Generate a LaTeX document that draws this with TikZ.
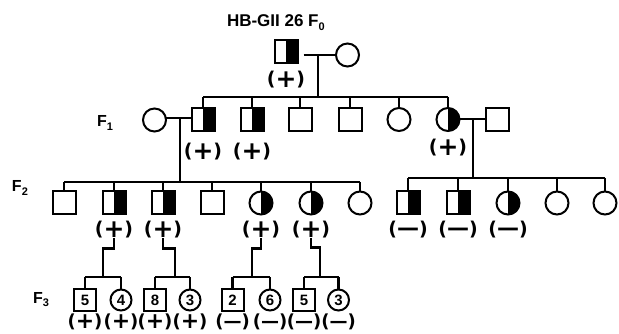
\documentclass[tikz,border=0pt]{standalone}
\usepackage{fontspec}
\setmainfont{Liberation Sans}
\newfontfamily\djv{DejaVu Sans}
\newcommand\Pl{\raisebox{-1.8pt}{\fontsize{25}{25}\selectfont +}}
\newcommand\Mi{{\fontsize{22}{22}\selectfont —}}
\newcommand\Pls{\raisebox{-1.6pt}{\fontsize{22}{22}\selectfont +}}
\newcommand\Mis{{\fontsize{18}{18}\selectfont —}}
\newcommand\Gen[1]{F\raisebox{-3.5pt}{\fontsize{11}{11}\selectfont #1}}
\begin{document}
\begin{tikzpicture}[x=1pt,y=-1pt,
  every node/.style={inner sep=0pt, outer sep=0pt},
  ln/.style={line width=2.2pt},
  male/.style={draw, line width=2pt, rectangle, minimum size=23pt},
  female/.style={draw, line width=2pt, circle, minimum size=23pt},
  smale/.style={draw, line width=2pt, rectangle, minimum size=22pt, font=\bfseries\fontsize{15}{15}\selectfont},
  sfemale/.style={draw, line width=2pt, circle, minimum size=21pt, font=\bfseries\fontsize{15}{15}\selectfont},
  half/.style={path picture={\fill[black] (path picture bounding box.north) rectangle (path picture bounding box.south east);}},
  sign/.style={font=\djv\bfseries\fontsize{19}{19}\selectfont},
  ssign/.style={font=\djv\bfseries\fontsize{18}{18}\selectfont},
  gen/.style={anchor=base west, font=\bfseries\fontsize{16}{16}\selectfont},
]
\useasboundingbox (0,0) rectangle (619,334);

% title
\node[anchor=base west, font=\bfseries\fontsize{17}{17}\selectfont] (title) at (227,27) {HB-GII 26 \Gen{0}};

% generation labels
\node[gen] (g1lab) at (97,127) {\Gen{1}};
\node[gen] (g2lab) at (12,192) {\Gen{2}};
\node[gen] (g3lab) at (33,303) {\Gen{3}};

% F0
\node[male,half] (m0) at (286,52) {};
\node[female] (f0) at (347.5,55) {};
\node[sign] (s0) at (286,80) {(\Pl)};
\coordinate (c0) at (318,55);
\coordinate (b0) at (318,97);
\draw[ln] ([xshift=6pt]m0.east |- f0.west) -- (f0.west);
\draw[ln] (c0) -- (b0);

% F1
\node[female] (f1s) at (154.5,120) {};
\node[male,half] (m1a) at (203,119.5) {};
\node[male,half] (m1b) at (252,119.5) {};
\node[male] (m1c) at (300,119.5) {};
\node[male] (m1d) at (350,119.5) {};
\node[female] (f1e) at (399,119.5) {};
\node[female,half] (f1f) at (448,119.5) {};
\node[male] (m1s) at (497.5,119.5) {};
\node[sign] (s1a) at (203,152) {(\Pl)};
\node[sign] (s1b) at (252,152) {(\Pl)};
\node[sign] (s1f) at (448,148) {(\Pl)};
\draw[ln] (m1a.north |- b0) -- (f1f.north |- b0);
\foreach \n in {m1a,m1b,m1c,m1d,f1e,f1f} \draw[ln] (\n.north |- b0) -- (\n.north);

% F1 marriages
\coordinate (c1) at (180,118);
\coordinate (b1) at (180,182);
\draw[ln] (f1s.east |- c1) -- (m1a.west |- c1);
\draw[ln] (c1) -- (b1);
\coordinate (c2) at (473,119);
\coordinate (b2) at (473,178);
\draw[ln] (f1f.east |- c2) -- (m1s.west |- c2);
\draw[ln] (c2) -- (b2);

% F2 left family
\node[male] (n1) at (64,203) {};
\node[male,half] (n2) at (114,203) {};
\node[male,half] (n3) at (163,203) {};
\node[male] (n4) at (212,203) {};
\node[female,half] (n5) at (261,203) {};
\node[female,half] (n6) at (311,203) {};
\node[female] (n7) at (360,203) {};
\draw[ln] (n1.north |- b1) -- (n7.north |- b1);
\foreach \n in {n1,n2,n3,n4,n5,n6,n7} \draw[ln] (\n.north |- b1) -- (\n.north);
\node[sign] (sn2) at (114,230) {(\Pl)};
\node[sign] (sn3) at (163,230) {(\Pl)};
\node[sign] (sn5) at (261,230) {(\Pl)};
\node[sign] (sn6) at (311,230) {(\Pl)};

% F2 right family
\node[male,half] (d1) at (408,203) {};
\node[male,half] (d2) at (458,203) {};
\node[female,half] (d3) at (508,203) {};
\node[female] (d4) at (557,203) {};
\node[female] (d5) at (605,203) {};
\draw[ln] (d1.north |- b2) -- (d5.north |- b2);
\foreach \n in {d1,d2,d3,d4,d5} \draw[ln] (\n.north |- b2) -- (\n.north);
\node[sign] (sd1) at (408,230) {(\Mi)};
\node[sign] (sd2) at (458,230) {(\Mi)};
\node[sign] (sd3) at (508,230) {(\Mi)};

% F3
\node[smale] (p1) at (85,300) {5};
\node[sfemale] (p2) at (121,300) {4};
\node[smale] (p3) at (155,300) {8};
\node[sfemale] (p4) at (190,300) {3};
\node[smale] (p5) at (232.5,300) {2};
\node[sfemale] (p6) at (270,300) {6};
\node[smale] (p7) at (304,300) {5};
\node[sfemale] (p8) at (338.5,300) {3};

\foreach \n in {p1,p2,p3,p4} \node[ssign] (s\n) at ([yshift=-21.5pt]\n.center) {(\Pls)};
\foreach \n in {p5,p6,p7,p8} \node[ssign] (s\n) at ([yshift=-21.5pt]\n.center) {(\Mis)};

% F3 connectors
\coordinate (j1) at (103,277);
\coordinate (j2) at (175,277);
\coordinate (j3) at (252,277);
\coordinate (j4) at (320,277);
\draw[ln] (sn2.south) -- ++(0,10) -| (j1);
\draw[ln] (sn3.south) -- ++(0,10) -| (j2);
\draw[ln] (sn5.south) -- ++(0,10) -| (j3);
\draw[ln] (sn6.south) -- ++(0,9) -| (j4);
\draw[ln] (p1.north |- j1) -- (p2.north |- j1);
\draw[ln] (p3.north |- j2) -- (p4.north |- j2);
\draw[ln] (p5.north |- j3) -- (p6.north |- j3);
\draw[ln] (p7.north |- j4) -- (p8.north |- j4);
\foreach \n/\j in {p1/j1,p2/j1,p3/j2,p4/j2,p5/j3,p6/j3,p7/j4,p8/j4} \draw[ln] (\n.north |- \j) -- (\n.north);
\end{tikzpicture}
\end{document}
